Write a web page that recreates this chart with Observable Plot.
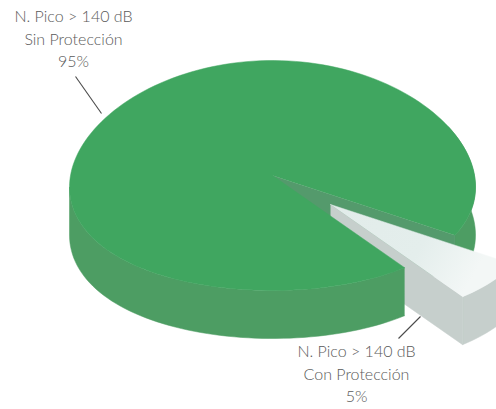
<!DOCTYPE html>
<html>
<head>
<meta charset="utf-8">
<script src="https://cdn.jsdelivr.net/npm/d3@7"></script>
<script src="https://cdn.jsdelivr.net/npm/@observablehq/plot@0.6"></script>
<style>html,body{margin:0;padding:0;background:#fff}svg{display:block}</style>
</head>
<body>
<div id="chart"></div>
<script>
const categories = ["Con Protección", "Sin Protección"];
const shares = [5, 95];
const labels = ["N. Pico > 140 dB\nCon Protección\n5%", "N. Pico > 140 dB\nSin Protección\n95%"];

// Layout of the tilted disc (pixels)
const W = 496, H = 409;
const cx = 272, cy = 175, rx = 203, ry = 115;
const depth = 48 / ry;            // thickness, in disc radii
const startDeg = 26;              // where the small slice begins
const sliceStretch = 1.3;         // the drawing widens the small slice
const explode = [58 / rx, 29 / ry];
const bulge = 0.1;                // the disc's widest point sits below its centre

const total = d3.sum(shares);
const rad = d => d * Math.PI / 180;
const a0 = startDeg, a1 = startDeg + shares[0] / total * 360 * sliceStretch, a2 = startDeg + 360;

const arc = (from, to, ox = 0, oy = 0) => {
  const n = Math.max(2, Math.ceil(Math.abs(to - from) / 2));
  return d3.range(n + 1).map(i => {
    const t = rad(from + (to - from) * i / n);
    const s = Math.sin(t);
    return [ox + Math.cos(t), oy + s + bulge * (1 - s * s)];
  });
};
const wall = (from, to, ox = 0, oy = 0) =>
  [...arc(from, to, ox, oy), ...arc(to, from, ox, oy + depth)];
const sector = (from, to, ox = 0, oy = 0) => [[ox, oy], ...arc(from, to, ox, oy)];
const edgeWall = (angle, ox = 0, oy = 0) => {
  const [p] = arc(angle, angle, ox, oy);
  return [[ox, oy], p, [p[0], p[1] + depth], [ox, oy + depth]];
};
const piece = (pts, fill) => Plot.line(pts, {x: d => d[0], y: d => d[1], fill, stroke: fill, strokeWidth: 0.5, curve: "linear"});

const [ex, ey] = explode;
const toX = px => (px - cx) / rx, toY = py => (py - cy) / ry;

const greenTop = "#40a660", greenSide = "#4d9d63", greenDark = "#549a6c";
const greyTop = "url(#greyFace)", greyWall = "#c6cfcc";

const chart = Plot.plot({
  width: W, height: H,
  margin: 0,
  x: {domain: [toX(0), toX(W)], range: [0, W], axis: null},
  y: {domain: [toY(0), toY(H)], range: [0, H], axis: null},
  marks: [
    // far side of the large slice, seen through the gap
    piece(wall(-30, a0), greenSide),
    piece(edgeWall(a0), greenDark),
    // small slice, pulled out
    piece(wall(a0, a1, ex, ey), greyWall),
    piece(edgeWall(a1, ex, ey), greyWall),
    piece(sector(a0, a1, ex, ey), greyTop),
    // large slice
    piece(wall(a1, 180), greenSide),
    piece(sector(a1, a2), greenTop),
    // leaders
    Plot.link([[75, 76, 101, 113], [398, 338, 420, 316]], {
      x1: d => toX(d[0]), y1: d => toY(d[1]), x2: d => toX(d[2]), y2: d => toY(d[3]),
      stroke: "#4a4a4a", strokeWidth: 1.1
    }),
    Plot.text([[73, 37, labels[1]], [356, 372, labels[0]]], {
      x: d => toX(d[0]), y: d => toY(d[1]), text: d => d[2],
      fontFamily: "Lato", fontSize: 16, fontWeight: 300, lineHeight: 1.4, fill: "#5a5a5a", textAnchor: "middle"
    })
  ]
});

const defs = d3.select(chart).insert("defs", ":first-child");
const g = defs.append("linearGradient").attr("id", "greyFace")
  .attr("gradientUnits", "userSpaceOnUse")
  .attr("x1", 340).attr("y1", 205).attr("x2", 470).attr("y2", 280);
g.append("stop").attr("offset", 0).attr("stop-color", "#e2ecea");
g.append("stop").attr("offset", 0.6).attr("stop-color", "#e4eeec");
g.append("stop").attr("offset", 1).attr("stop-color", "#f3f7f6");

document.getElementById("chart").append(chart);
</script>
</body>
</html>
